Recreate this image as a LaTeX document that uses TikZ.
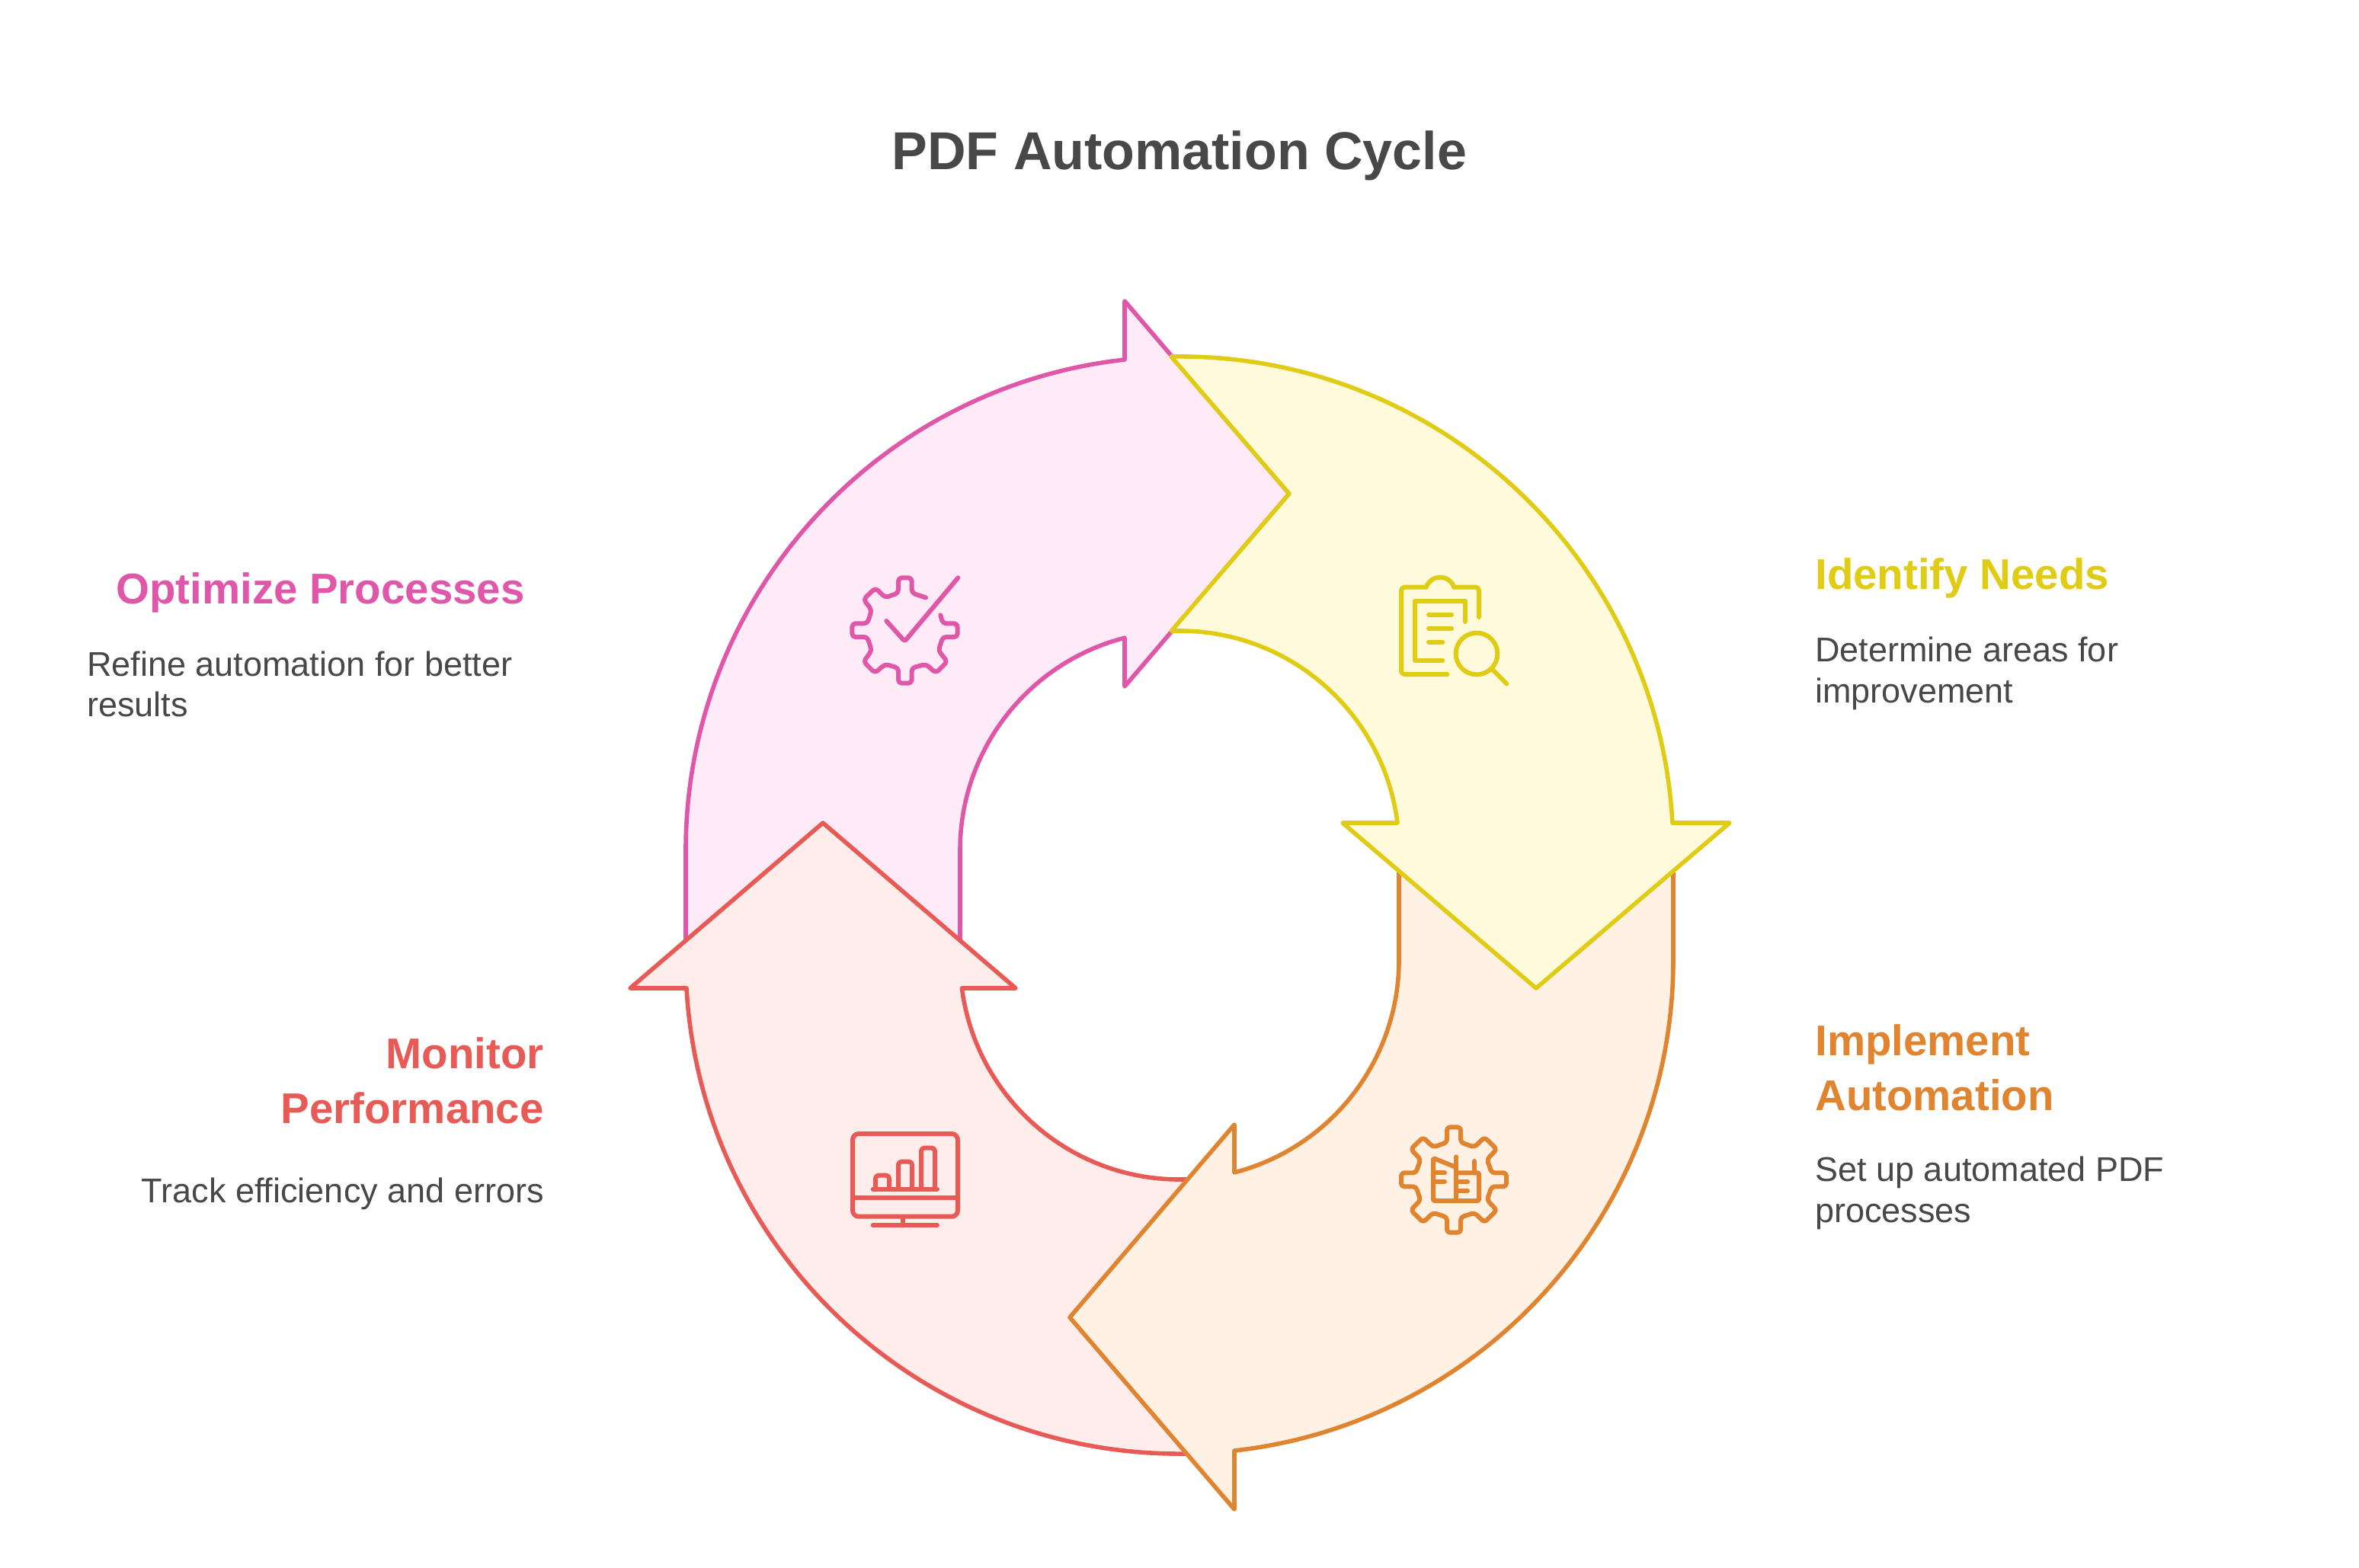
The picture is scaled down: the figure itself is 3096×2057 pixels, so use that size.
\documentclass[tikz,border=0pt]{standalone}
\usepackage{fontspec}
\setmainfont{Liberation Sans}
\definecolor{pinkS}{HTML}{E056A8}\definecolor{pinkF}{HTML}{FEEBF7}
\definecolor{yelS}{HTML}{E0CB15}\definecolor{yelF}{HTML}{FFFADB}
\definecolor{oraS}{HTML}{E0842F}\definecolor{oraF}{HTML}{FFF1E4}
\definecolor{redS}{HTML}{E85A56}\definecolor{redF}{HTML}{FFEDEB}
\definecolor{ink}{HTML}{484848}
\tikzset{
  band/.style={line width=2.8pt,line join=round},
  icon/.style={line width=3pt,line cap=round,line join=round},
  ttl/.style={inner sep=0pt,text=ink,font=\fontsize{35}{42}\selectfont\bfseries},
  head/.style={inner sep=0pt,font=\fontsize{28.2}{36}\selectfont\bfseries},
  body/.style={inner sep=0pt,text=ink,font=\fontsize{22.5}{26.7}\selectfont},
  zoomed/.style={x=0.16667pt,y=-0.16667pt}
}
\begin{document}
\begin{tikzpicture}[x=0.5pt,y=-0.5pt]
\useasboundingbox (0,0) rectangle (3096,2057);
\fill[white] (0,0) rectangle (3096,2057);
% pink band
\draw[band,draw=pinkS,fill=pinkF] (1260,1260) -- (1260,1116) arc[start angle=180,end angle=255.52,radius=288]
  -- (1476,901) -- (1692,648) -- (1476,395) -- (1476,472) arc[start angle=263.62,end angle=180,radius=648]
  -- (900,1260) -- cycle;
% red band
\draw[band,draw=redS,fill=redF] (1590,1548) -- (1548,1548) arc[start angle=90,end angle=172.62,radius=288]
  -- (1333,1297) -- (1080,1080) -- (827,1297) -- (901,1297) arc[start angle=176.73,end angle=90,radius=648]
  -- (1590,1908) -- cycle;
% orange band
\draw[band,draw=oraS,fill=oraF] (1836,1116) -- (1836,1260) arc[start angle=0,end angle=75.52,radius=288]
  -- (1620,1476) -- (1404,1729) -- (1620,1981) -- (1620,1904) arc[start angle=83.62,end angle=0,radius=648]
  -- (2196,1116) -- cycle;
% yellow band
\draw[band,draw=yelS,fill=yelF] (1537,468) arc[start angle=269.03,end angle=356.82,radius=648]
  -- (2270,1080) -- (2016,1297) -- (1762,1080) -- (1834,1080) arc[start angle=352.82,end angle=267.81,radius=288]
  -- (1692,648) -- cycle;
% pink icon
\begin{scope}[shift={(1100,730)},zoomed,draw=pinkS,icon]
\draw[rounded corners=2.2pt] (345,163) -- (290,145) -- (290,85) -- (237,85) -- (237,145) -- (185,163) -- (147,125) -- (100,170) -- (132,212) -- (115,265) -- (55,265) -- (55,318) -- (115,318) -- (132,372) -- (100,415) -- (145,460) -- (185,425) -- (237,440) -- (237,500) -- (290,500) -- (290,440) -- (345,425) -- (385,460) -- (430,415) -- (395,372) -- (412,318) -- (470,318) -- (470,265) -- (412,265) -- (403,232);
\draw[rounded corners=1.5pt] (190,255) -- (262,335) -- (472,85);
\end{scope}
% yellow icon
\begin{scope}[shift={(1830,740)},zoomed,draw=yelS,icon]
\draw[rounded corners=2.2pt] (333,210) -- (333,92) -- (235,92);
\draw (235,92) .. controls (215,40) and (145,40) .. (125,92);
\draw[rounded corners=2.2pt] (125,92) -- (27,92) -- (27,435) -- (208,435);
\draw (279,228) -- (279,146) -- (81,146) -- (81,380) -- (190,380);
\draw (135,200) -- (225,200);
\draw (135,254) -- (225,254);
\draw (135,308) -- (190,308);
\draw (324,354) circle[radius=82];
\draw (388,418) -- (442,472);
\end{scope}
% orange icon
\begin{scope}[shift={(1830,1470)},zoomed,draw=oraS,icon]
\draw[rounded corners=2pt] (207,88) -- (207,28) -- (261,28) -- (261,88) -- (315,107) -- (355,68) -- (403,115) -- (365,155) -- (383,208) -- (441,208) -- (441,262) -- (383,262) -- (365,315) -- (403,355) -- (355,403) -- (315,365) -- (261,383) -- (261,443) -- (207,443) -- (207,383) -- (153,365) -- (113,403) -- (65,355) -- (103,315) -- (85,262) -- (27,262) -- (27,208) -- (85,208) -- (103,155) -- (65,115) -- (113,68) -- (153,107) -- cycle;
\draw[rounded corners=1pt] (243,186) -- (153,150) -- (153,318) -- (333,318) -- (333,208) -- (243,208);
\draw (243,145) -- (243,318);
\draw (315,162) -- (315,208);
\draw (153,208) -- (198,208);
\draw (153,243) -- (198,243);
\draw (243,243) -- (288,243);
\draw (243,280) -- (288,280);
\end{scope}
% red icon
\begin{scope}[shift={(1100,1470)},zoomed,draw=redS,icon]
\draw[rounded corners=4pt] (57,54) rectangle (471,380);
\draw (57,307) -- (471,307);
\draw (255,380) -- (255,415);
\draw (137,415) -- (390,415);
\draw (137,272) -- (390,272);
\draw[rounded corners=2pt] (147,272) -- (147,218) -- (201,218) -- (201,272);
\draw[rounded corners=2pt] (237,272) -- (237,164) -- (291,164) -- (291,272);
\draw[rounded corners=2pt] (327,272) -- (327,110) -- (381,110) -- (381,272);
\end{scope}
% text
\node[ttl] (title) at (1548,204) {PDF Automation Cycle};
\node[head,text=yelS,anchor=west] (identify) at (2382,759) {Identify Needs};
\node[body,anchor=west,align=left] (identifyb) at (2382,884) {Determine areas for\\improvement};
\node[head,text=oraS,anchor=west,align=left] (implement) at (2382,1401) {Implement\\Automation};
\node[body,anchor=west,align=left] (implementb) at (2382,1566) {Set up automated PDF\\processes};
\node[head,text=pinkS,anchor=east] (optimize) at (689,778) {Optimize Processes};
\node[body,anchor=west,align=left] (optimizeb) at (114,898) {Refine automation for better\\results};
\node[head,text=redS,anchor=east,align=right] (monitor) at (714,1418) {Monitor\\Performance};
\node[body,anchor=east] (monitorb) at (714,1567) {Track efficiency and errors};
\end{tikzpicture}
\end{document}
